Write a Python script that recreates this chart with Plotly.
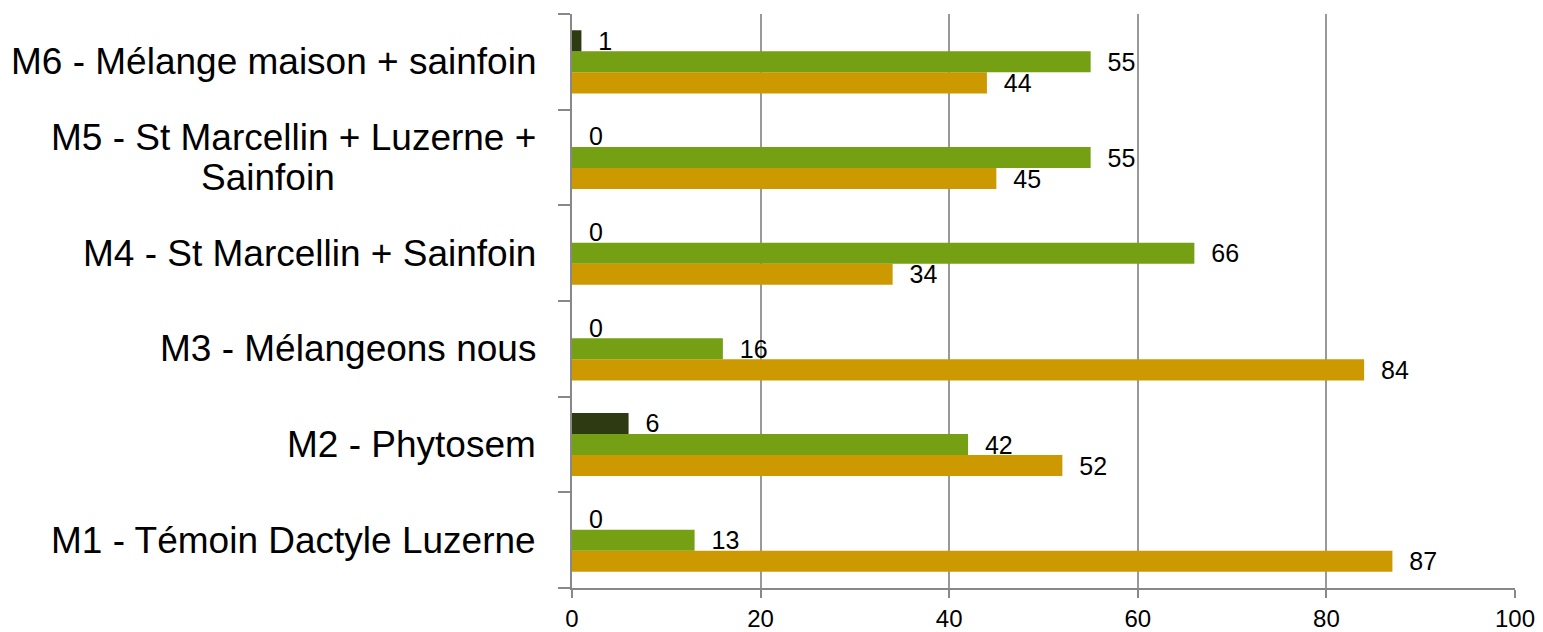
import plotly.graph_objects as go

categories = [
    "M1 - Témoin Dactyle Luzerne",
    "M2 - Phytosem",
    "M3 - Mélangeons nous",
    "M4 - St Marcellin + Sainfoin",
    "M5 - St Marcellin + Luzerne +<br>Sainfoin",
    "M6 - Mélange maison + sainfoin",
]
series_dark = [0, 6, 0, 0, 0, 1]
series_green = [13, 42, 16, 66, 55, 55]
series_orange = [87, 52, 84, 34, 45, 44]
x_ticks = [0, 20, 40, 60, 80, 100]

FONT = "Liberation Sans, Arial, sans-serif"
ypos = list(range(len(categories)))

fig = go.Figure()
for vals, col in [(series_orange, "#CC9900"), (series_green, "#76A014"), (series_dark, "#2D3A12")]:
    fig.add_trace(go.Bar(
        y=ypos, x=vals, orientation="h",
        marker=dict(color=col, line=dict(width=0)),
        text=vals, texttemplate="\u00a0\u00a0%{x}",
        textposition="outside", cliponaxis=False, constraintext="none",
        textfont=dict(size=25, color="#000", family=FONT),
        showlegend=False, hoverinfo="skip",
    ))

LINE_SP = 40
for i, c in enumerate(categories):
    lines = c.split("<br>")
    n = len(lines)
    for k, ln in enumerate(lines):
        # continuation lines are centred under the first line
        xs = -34 if k == 0 else -235
        fig.add_annotation(
            x=0, xref="paper", y=i, yref="y", text=ln, showarrow=False,
            xanchor="right", yanchor="middle", xshift=xs,
            yshift=((n - 1) / 2 - k) * LINE_SP,
            font=dict(size=37, color="#000", family=FONT),
        )

fig.update_layout(
    width=1543, height=632,
    margin=dict(l=572, r=28, t=14, b=44, autoexpand=False),
    paper_bgcolor="white", plot_bgcolor="white",
    barmode="group", bargap=0.34, bargroupgap=0,
    font=dict(family=FONT, color="#000"),
)
fig.update_xaxes(
    range=[0, 100], tickvals=x_ticks, ticktext=[str(t) for t in x_ticks],
    showgrid=True, gridcolor="#999", gridwidth=1.5,
    showline=True, linecolor="#888", linewidth=1.5,
    ticks="outside", ticklen=8, tickcolor="#888", tickwidth=1.5,
    tickfont=dict(size=24, family=FONT, color="#000"),
    zeroline=False, fixedrange=True, automargin=False,
)
fig.update_yaxes(
    range=[-0.5, len(categories) - 0.5],
    tickvals=ypos, ticktext=[""] * len(categories), ticks="",
    showgrid=False, zeroline=False, automargin=False, fixedrange=True,
    showline=True, linecolor="#888", linewidth=1.5,
    minor=dict(tickvals=[i - 0.5 for i in range(len(categories) + 1)],
               ticks="outside", ticklen=12, tickcolor="#888", tickwidth=1.5, showgrid=False),
)

fig.write_html("out.html", config={"displayModeBar": False},
               post_script="document.body.style.margin='0';document.body.style.overflow='hidden';")
